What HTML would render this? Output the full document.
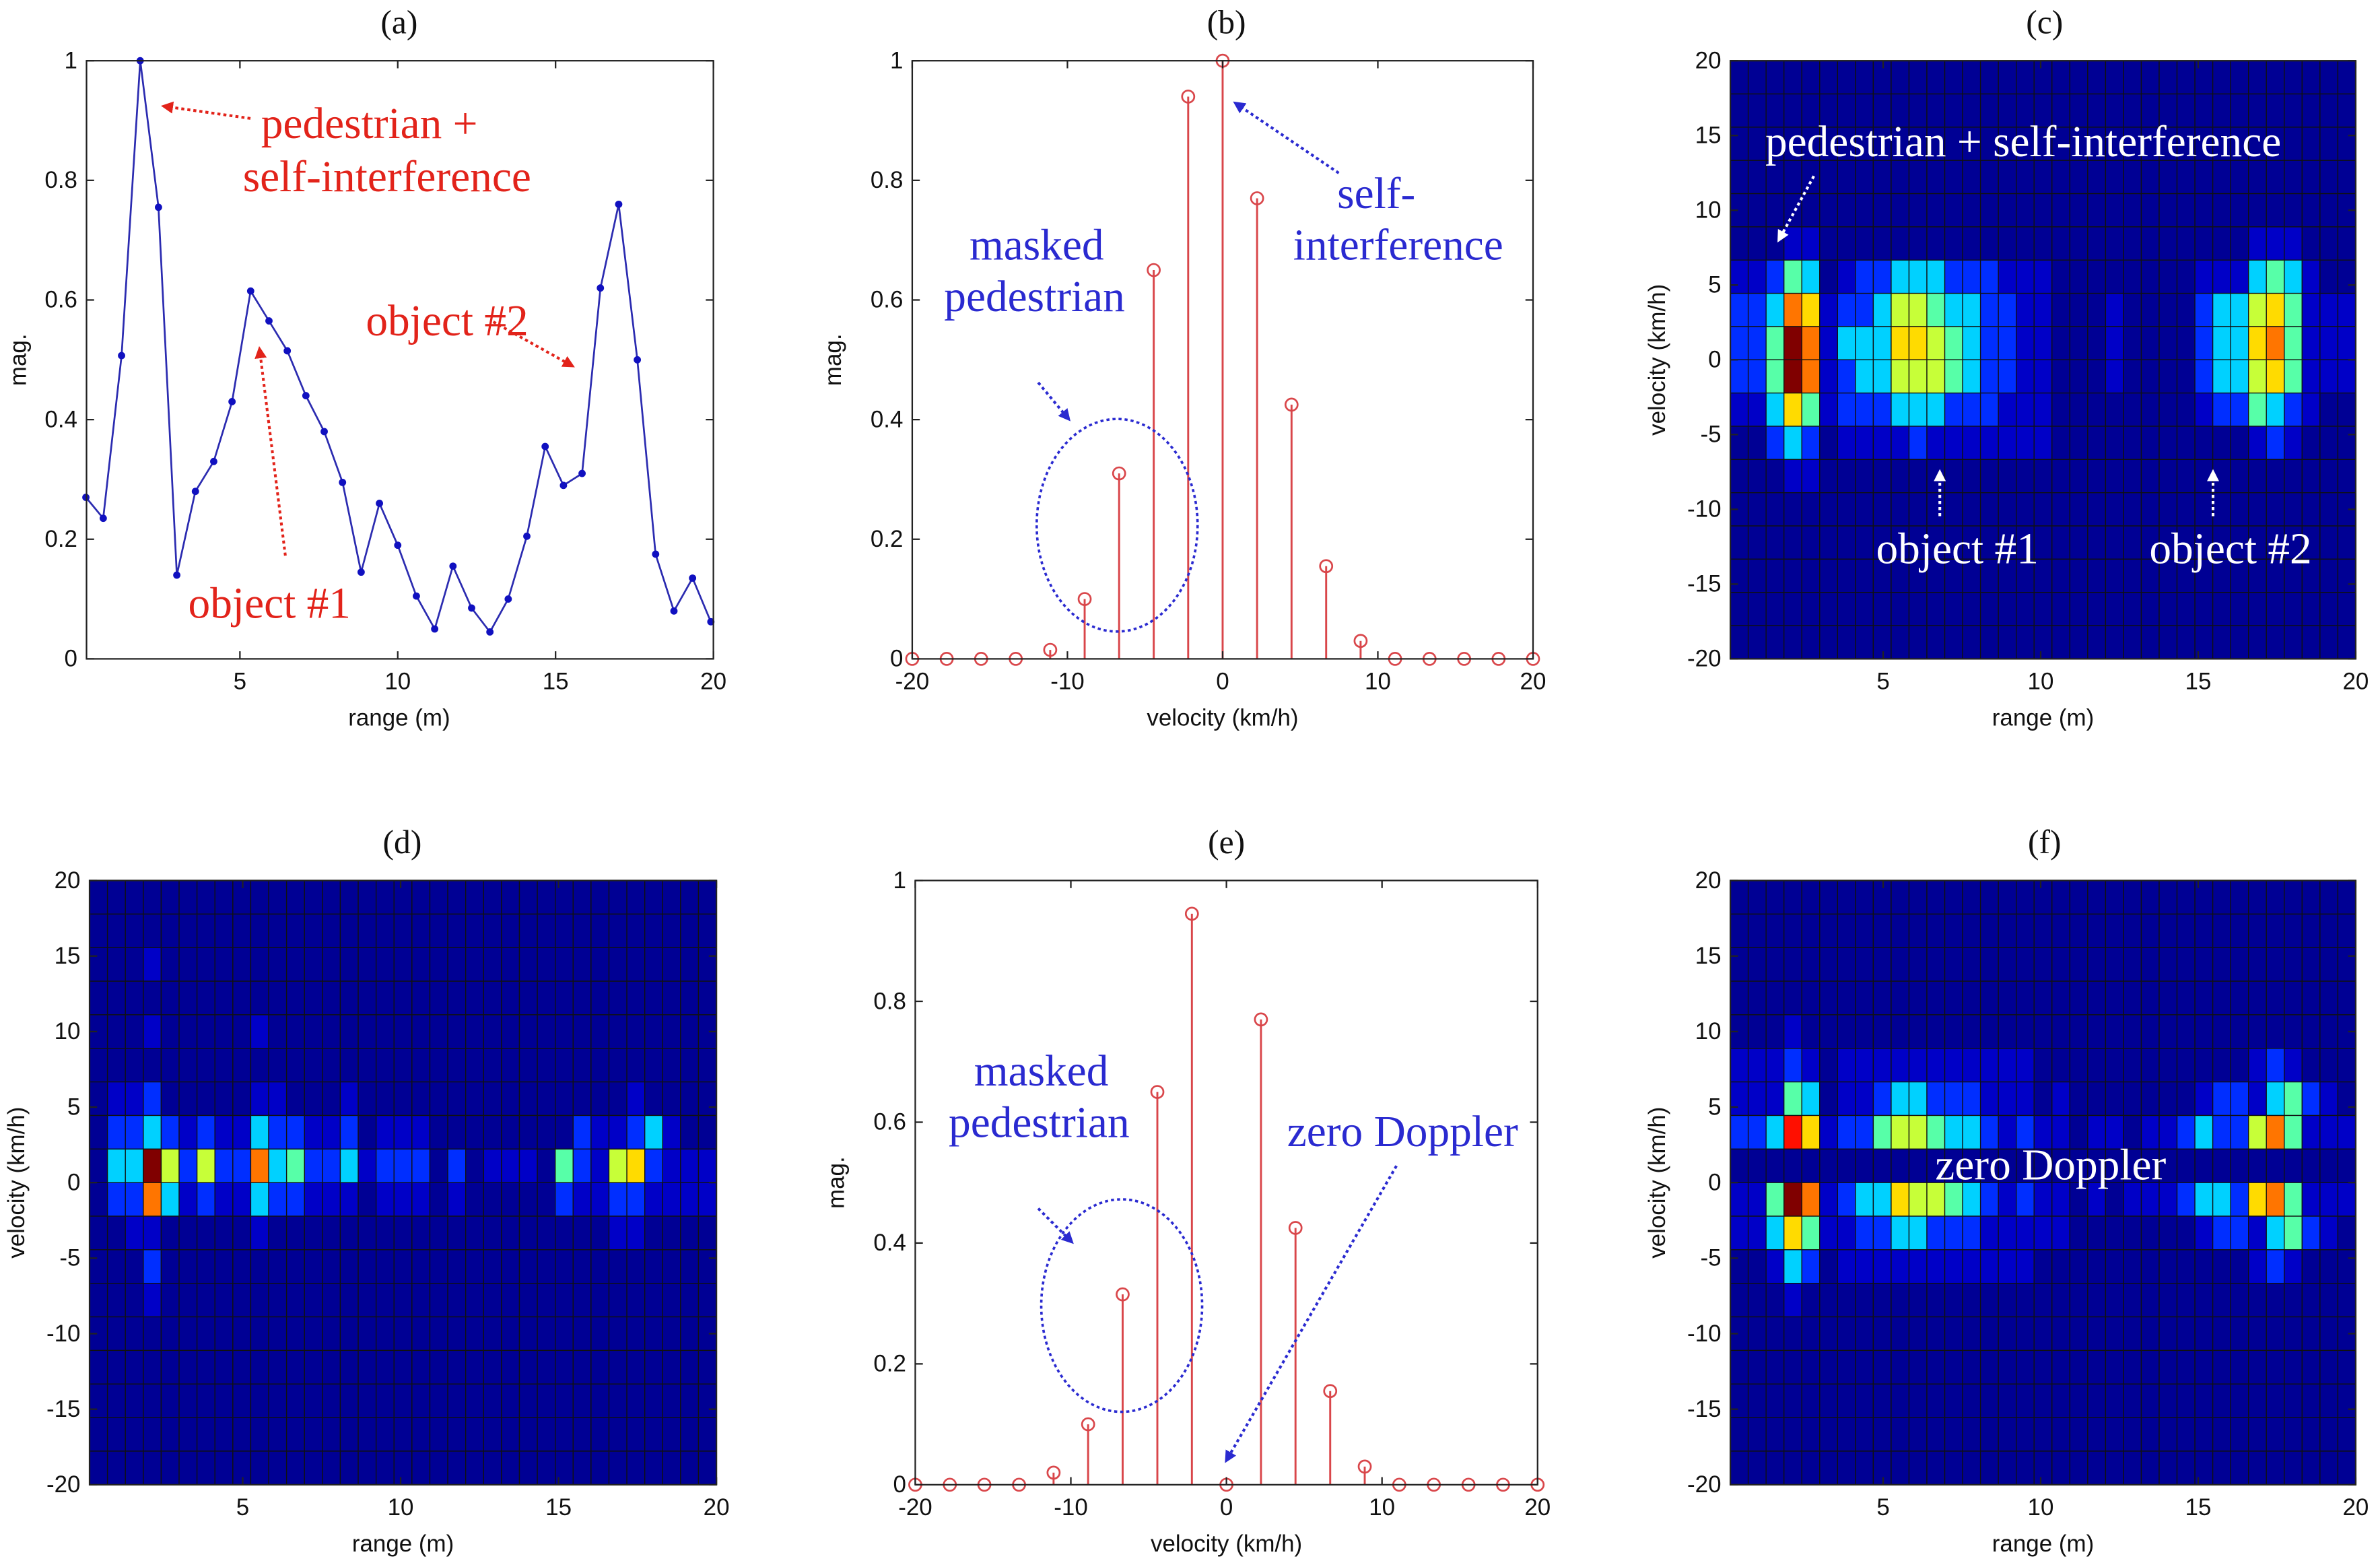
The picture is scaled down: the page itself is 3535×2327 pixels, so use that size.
<!DOCTYPE html>
<html><head><meta charset="utf-8"><style>
html,body{margin:0;padding:0;background:#fff;}
svg{display:block;}
.tk{font-family:"Liberation Sans",Arial,sans-serif;font-size:15.5px;fill:#111;}
.tt{font-family:"Liberation Serif","Times New Roman",serif;font-size:22px;fill:#111;}
.an{font-family:"Liberation Serif","Times New Roman",serif;font-size:29px;}
</style></head><body>
<svg id="fig" width="3535" height="2327" viewBox="0 0 1568 1032.2" preserveAspectRatio="none" xmlns="http://www.w3.org/2000/svg">
<defs>
<marker id="arR" markerWidth="8" markerHeight="8" refX="6" refY="4" orient="auto" markerUnits="userSpaceOnUse"><path d="M0,0 L8,4 L0,8 z" fill="#e2231a"/></marker>
<marker id="arB" markerWidth="8" markerHeight="8" refX="6" refY="4" orient="auto" markerUnits="userSpaceOnUse"><path d="M0,0 L8,4 L0,8 z" fill="#2a2ad0"/></marker>
<marker id="arW" markerWidth="8" markerHeight="8" refX="6" refY="4" orient="auto" markerUnits="userSpaceOnUse"><path d="M0,0 L8,4 L0,8 z" fill="#fff"/></marker>
</defs>
</svg>
<script>
// ---------- data ----------
const rangeA = [0.12,0.67,1.25,1.84,2.42,3.0,3.59,4.17,4.75,5.34,5.92,6.5,7.09,7.67,8.25,8.84,9.42,10.0,10.59,11.17,11.75,12.34,12.92,13.5,14.09,14.67,15.25,15.84,16.42,17.0,17.59,18.17,18.75,19.34,19.92];
const magA = [0.27,0.235,0.507,1.0,0.755,0.14,0.28,0.33,0.43,0.615,0.565,0.515,0.44,0.38,0.295,0.145,0.26,0.19,0.105,0.05,0.155,0.085,0.045,0.10,0.205,0.355,0.29,0.31,0.62,0.76,0.50,0.175,0.08,0.135,0.062];
const velStem = [-20,-17.78,-15.56,-13.33,-11.11,-8.89,-6.67,-4.44,-2.22,0,2.22,4.44,6.67,8.89,11.11,13.33,15.56,17.78,20];
const magB = [0,0,0,0,0.015,0.10,0.31,0.65,0.94,1.0,0.77,0.425,0.155,0.03,0,0,0,0,0];
const magE = [0,0,0,0,0.02,0.10,0.315,0.65,0.945,0,0.77,0.425,0.155,0.03,0,0,0,0,0];
const magTicks = ["0","0.2","0.4","0.6","0.8","1"];
const rangeTicks = [5,10,15,20];
const velTicksX = [-20,-10,0,10,20];
const velTicksY = [20,15,10,5,0,-5,-10,-15,-20];
// heatmaps: rows from +20 km/h (top) to -20 km/h, 18 rows x 35 range bins, intensity 0-9
const Z = "00000000000000000000000000000000000";
const heatC = [Z,Z,Z,Z,Z,
"00011000000000000000000000000111000",
"11243012233322211100000000111343100",
"22376122355433221100010000233564111",
"22497133366543221100010000233674111",
"22497123355543221100010000233564111",
"11364122233322211100000000122432100",
"00232011112111111100000000000121000",
"00011000000000000000000000000000000",
Z,Z,Z,Z,Z];
const heatD = [Z,Z,
"00010000000000000000000000000000000",
Z,
"00010000010000000000000000000000000",
Z,
"01120000011000100000000000000010000",
"02232121132211201110000000021123100",
"03395252273422312220201110421562111",
"02273121132211101110100000211221111",
"00110000010000000000000000000110000",
"00020000000000000000000000000000000",
"00010000000000000000000000000000000",
Z,Z,Z,Z,Z];
const heatF = [Z,Z,Z,Z,
"00010000000000000000000000000000000",
"11121011111111111000000000000121000",
"11143011233222111010000000122134210",
"22386122455433212110110112322574111",
Z,
"11497123365543212110101112332674111",
"11364112233222111110000000122134210",
"00132011111111111000000000000121000",
"00010000000000000000000000000000000",
Z,Z,Z,Z,Z];

// ---------- helpers ----------
const svg = document.getElementById('fig');
const NS = "http://www.w3.org/2000/svg";
function mk(tag, attrs, parent){
  const e = document.createElementNS(NS, tag);
  for (const k in attrs) e.setAttribute(k, attrs[k]);
  (parent||svg).appendChild(e);
  return e;
}
function txt(s, x, y, cls, anchor, parent, fill){
  const t = mk('text', {x:x, y:y, class:cls, 'text-anchor':anchor||'middle'}, parent);
  if (fill) t.setAttribute('fill', fill);
  t.textContent = s;
  return t;
}
function lin(d0,d1,r0,r1){ return v => r0 + (v-d0)/(d1-d0)*(r1-r0); }
const jetLevel = [0.02,0.07,0.17,0.33,0.46,0.57,0.66,0.76,0.86,1.0];
function jet(d){
  const t = jetLevel[d];
  const c = x => Math.max(0, Math.min(1, 1.5 - Math.abs(4*t - x)));
  const r = c(3), g = c(2), b = c(1);
  return `rgb(${Math.round(r*255)},${Math.round(g*255)},${Math.round(b*255)})`;
}

function axesBox(name){
  const g = mk('g', {});
  
  
  return g;
}
function frame(g, x0, y0, x1, y1){
  const r = mk('rect', {x:x0, y:y0, width:x1-x0, height:y1-y0, fill:'none', stroke:'#222', 'stroke-width':1}, g);
  
  
}
function xTicks(g, vals, labels, sx, y0, y1){
  vals.forEach((v,i)=>{
    const x = sx(v);
    mk('line',{x1:x,y1:y1,x2:x,y2:y1-5,stroke:'#222','stroke-width':1},g);
    mk('line',{x1:x,y1:y0,x2:x,y2:y0+5,stroke:'#222','stroke-width':1},g);
    const t = txt(labels[i], x, y1+20, 'tk', 'middle', g);
    
    
  });
}
function yTicks(g, vals, labels, sy, x0, x1){
  vals.forEach((v,i)=>{
    const y = sy(v);
    mk('line',{x1:x0,y1:y,x2:x0+5,y2:y,stroke:'#222','stroke-width':1},g);
    mk('line',{x1:x1,y1:y,x2:x1-5,y2:y,stroke:'#222','stroke-width':1},g);
    const t = txt(labels[i], x0-6, y+5, 'tk', 'end', g);
    
    
  });
}
function yLabel(g, s, x, y){
  const t = txt(s, x, y, 'tk', 'middle', g);
  t.setAttribute('transform', `rotate(-90 ${x} ${y})`);
  
  
}
function xLabel(g, s, x, y){
  const t = txt(s, x, y, 'tk', 'middle', g);
  
  
}
function title(s, x, y){
  const t = txt(s, x, y, 'tt', 'middle');
  
  
}

// ---------- panel (a) ----------
(function(){
  const x0=57,x1=470,y0=40,y1=434;
  const g = axesBox('panel-a-range-profile');
  const sx = lin(0.14,20,x0,x1), sy = lin(0,1,y1,y0);
  mk('rect',{x:x0,y:y0,width:x1-x0,height:y1-y0,fill:'#fff'},g);
  const pts = rangeA.map((r,i)=>sx(r).toFixed(1)+','+sy(magA[i]).toFixed(1)).join(' ');
  const pl = mk('polyline',{points:pts,fill:'none',stroke:'#2b2bb0','stroke-width':1.2},g);
  
  
  rangeA.forEach((r,i)=>{
    const c = mk('circle',{cx:sx(r),cy:sy(magA[i]),r:2.4,fill:'#1010c0'},g);
    
    
  });
  frame(g,x0,y0,x1,y1);
  xTicks(g, rangeTicks, rangeTicks.map(String), sx, y0, y1);
  yTicks(g, [0,0.2,0.4,0.6,0.8,1], magTicks, sy, x0, x1);
  xLabel(g,'range (m)',263,478);
  yLabel(g,'mag.',17,237);
})();
title('(a)',263,22);

// ---------- stem panels ----------
function stemPanel(name, vals, x0,x1,y0,y1, ylx){
  const g = axesBox(name);
  const sx = lin(-20,20,x0,x1), sy = lin(0,1,y1,y0);
  velStem.forEach((v,i)=>{
    const l = mk('line',{x1:sx(v),y1:sy(0),x2:sx(v),y2:sy(vals[i]),stroke:'#d9464a','stroke-width':1.3},g);
    
    
    const c = mk('circle',{cx:sx(v),cy:sy(vals[i]),r:4,fill:'none',stroke:'#d9464a','stroke-width':1.2},g);
    
    
  });
  frame(g,x0,y0,x1,y1);
  xTicks(g, velTicksX, velTicksX.map(String), sx, y0, y1);
  yTicks(g, [0,0.2,0.4,0.6,0.8,1], magTicks, sy, x0, x1);
  xLabel(g,'velocity (km/h)',(x0+x1)/2,y1+44);
  yLabel(g,'mag.',ylx,(y0+y1)/2);
  return g;
}
stemPanel('panel-b-doppler-spectrum', magB, 601,1010,40,434, 554);
title('(b)',808,22);
stemPanel('panel-e-doppler-spectrum-masked', magE, 603,1013,580,978, 556);
title('(e)',808,562);

// ---------- heatmaps ----------
function heatPanel(name, rows, x0,x1,y0,y1, ylx){
  const g = axesBox(name);
  const sx = lin(0.15,20,x0,x1), sy = lin(-20,20,y1,y0);
  const nR = rows.length, nC = rows[0].length;
  const dv = 40/nR, dr = (20-0.15)/nC;
  rows.forEach((row,ri)=>{
    for (let ci=0; ci<nC; ci++){
      const d = +row[ci];
      const xa = sx(0.15+ci*dr), xb = sx(0.15+(ci+1)*dr);
      const ya = sy(20-ri*dv), yb = sy(20-(ri+1)*dv);
      const r = mk('rect',{x:xa,y:ya,width:xb-xa,height:yb-ya,fill:jet(d),stroke:'#111','stroke-width':0.6},g);
      
      
    }
  });
  frame(g,x0,y0,x1,y1);
  xTicks(g, rangeTicks, rangeTicks.map(String), sx, y0, y1);
  yTicks(g, velTicksY, velTicksY.map(String), sy, x0, x1);
  xLabel(g,'range (m)',(x0+x1)/2,y1+44);
  yLabel(g,'velocity (km/h)',ylx,(y0+y1)/2);
  return g;
}
heatPanel('panel-c-range-doppler-map', heatC, 1140,1552,40,434, 1097);
title('(c)',1347,22);
heatPanel('panel-d-range-doppler-map', heatD, 59,472,580,978, 16);
title('(d)',265,562);
heatPanel('panel-f-range-doppler-map-masked', heatF, 1140,1552,580,978, 1097);
title('(f)',1347,562);

// ---------- annotations ----------
function ann(s,x,y,color,anchor,name){
  const t = txt(s,x,y,'an',anchor||'start',svg,color);
  
  
}
function arrow(x1,y1,x2,y2,color,mid,name){
  const l = mk('line',{x1:x1,y1:y1,x2:x2,y2:y2,stroke:color,'stroke-width':1.8,'stroke-dasharray':'2,2','marker-end':`url(#${mid})`});
  
  
}
const RED='#e2231a', BLUE='#2a2ad0';
ann('pedestrian +',172,91,RED,'start','annotation-pedestrian');
ann('self-interference',160,126,RED,'start','annotation-self-interference');
arrow(165,78,108,70,RED,'arR','arrow-pedestrian');
ann('object #2',241,221,RED,'start','annotation-object-2');
arrow(325,212,377,241,RED,'arR','arrow-object-2');
ann('object #1',124,407,RED,'start','annotation-object-1');
arrow(188,366,171,230,RED,'arR','arrow-object-1');

ann('self-',881,137,BLUE,'start','annotation-self');
ann('interference',852,171,BLUE,'start','annotation-interference');
arrow(882,114,814,68,BLUE,'arB','arrow-self-interference');
ann('masked',683,171,BLUE,'middle','annotation-masked');
ann('pedestrian',622,205,BLUE,'start','annotation-pedestrian-b');
arrow(684,252,704,276,BLUE,'arB','arrow-masked-b');
let el = mk('ellipse',{cx:736,cy:346,rx:53,ry:70,fill:'none',stroke:BLUE,'stroke-width':1.6,'stroke-dasharray':'2,2'});



ann('masked',686,715,BLUE,'middle','annotation-masked-e');
ann('pedestrian',625,749,BLUE,'start','annotation-pedestrian-e');
arrow(684,796,706,818,BLUE,'arB','arrow-masked-e');
el = mk('ellipse',{cx:739,cy:860,rx:53,ry:70,fill:'none',stroke:BLUE,'stroke-width':1.6,'stroke-dasharray':'2,2'});


ann('zero Doppler',848,755,BLUE,'start','annotation-zero-doppler-e');
arrow(920,768,808,962,BLUE,'arB','arrow-zero-doppler-e');

ann('pedestrian + self-interference',1163,103,'#fff','start','annotation-pedestrian-c');
arrow(1195,116,1172,158,'#fff','arW','arrow-pedestrian-c');
ann('object #1',1236,371,'#fff','start','annotation-object-1-c');
arrow(1278,340,1278,311,'#fff','arW','arrow-object-1-c');
ann('object #2',1416,371,'#fff','start','annotation-object-2-c');
arrow(1458,340,1458,311,'#fff','arW','arrow-object-2-c');
ann('zero Doppler',1351,777,'#fff','middle','annotation-zero-doppler-f');
</script>
</body></html>
